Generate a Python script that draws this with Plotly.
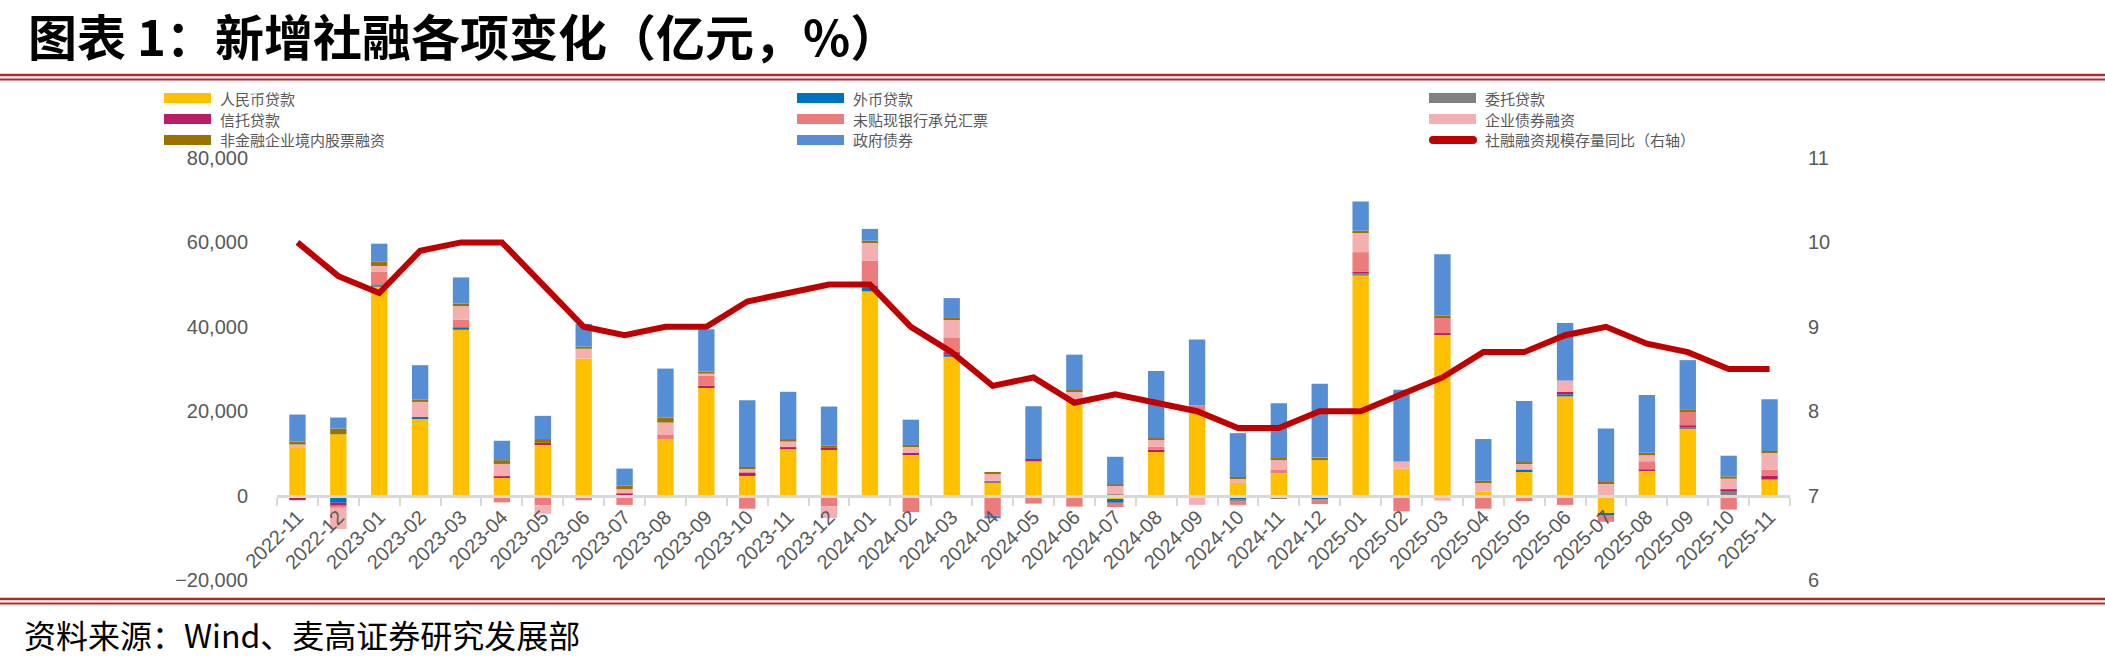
import plotly.graph_objects as go

months = ["2022-11", "2022-12",
          "2023-01", "2023-02", "2023-03", "2023-04", "2023-05", "2023-06",
          "2023-07", "2023-08", "2023-09", "2023-10", "2023-11", "2023-12",
          "2024-01", "2024-02", "2024-03", "2024-04", "2024-05", "2024-06",
          "2024-07", "2024-08", "2024-09", "2024-10", "2024-11", "2024-12",
          "2025-01", "2025-02", "2025-03", "2025-04", "2025-05", "2025-06",
          "2025-07", "2025-08", "2025-09", "2025-10", "2025-11"]

# 亿元
rmb_loans = [11500, 14500,
             49400, 18300, 39300, 4300, 12200, 32500,
             200, 13400, 25500, 4700, 11000, 11000,
             48400, 9600, 32900, 3200, 8100, 22000,
             -800, 10500, 20200, 3000, 5300, 8400,
             52100, 6400, 38100, 1000, 5800, 23500,
             -4300, 5900, 16000, 0, 3800]
fx_loans = [-800, -1700,
            0, 300, 600, -400, -400, 0,
            -400, 0, -200, 400, -300, -500,
            900, 0, 500, 0, -300, -500,
            -900, -500, -200, -900, -500, -800,
            -300, 0, 0, 0, 400, 500,
            -300, 0, 0, -300, 0]
entrusted_loans = [0, 0,
                   700, 0, 0, 0, 0, 0,
                   0, 0, 0, 0, -200, 0,
                   -200, 0, -200, 300, 0, 0,
                   300, 0, 0, -300, -200, 0,
                   500, -200, -300, 0, 0, -300,
                   0, -300, 300, 1200, -300]
trust_loans = [-300, -700,
               -200, 0, 0, 300, 300, -400,
               300, -200, 500, 400, 500, 300,
               500, 500, 600, 0, 600, 0,
               0, 400, 0, 0, 0, 0,
               500, -300, 400, 0, 0, 600,
               0, 250, 300, 300, 950]
undiscounted_bills = [0, -500,
                      2900, -300, 1800, -1200, -1900, -700,
                      -1800, 1100, 2400, -3100, 0, -2000,
                      5900, -3900, 3500, -4700, -1600, -2100,
                      -1000, 700, 1200, -1000, 900, -1200,
                      4600, -3200, 3700, -3100, -1300, -1900,
                      -1600, 2000, 3200, -3000, 1400]
corp_bonds = [600, -5000,
              1400, 3600, 3200, 2900, -2000, 2300,
              1000, 2800, 500, 900, 1300, -2800,
              4300, 1600, 4300, 1700, 0, 2600,
              2000, 1800, -2000, 1100, 2200, 0,
              4700, 1700, -900, 2200, 1400, 2700,
              2800, 1400, 0, 2500, 4000]
equity_financing = [700, 1400,
                    1100, 600, 600, 900, 900, 500,
                    900, 1200, 500, 400, 600, 600,
                    400, 300, 300, 300, 0, 400,
                    300, 200, 0, 300, 500, 600,
                    400, 0, 400, 300, 300, 0,
                    400, 600, 500, 550, 400]
gov_bonds = [6400, 2600,
             4200, 8100, 6200, 4600, 5500, 5400,
             4000, 11600, 10000, 15800, 11200, 9200,
             2800, 6000, 4700, -700, 12500, 8400,
             6600, 15900, 15600, 10400, 13000, 17500,
             6900, 17000, 14600, 9900, 14500, 13600,
             12700, 13700, 11800, 4900, 12300]
# %
tsf_stock_yoy = [10.0, 9.6,
                 9.4, 9.9, 10.0, 10.0, 9.5, 9.0,
                 8.9, 9.0, 9.0, 9.3, 9.4, 9.5,
                 9.5, 9.0, 8.7, 8.3, 8.4, 8.1,
                 8.2, 8.1, 8.0, 7.8, 7.8, 8.0,
                 8.0, 8.2, 8.4, 8.7, 8.7, 8.9,
                 9.0, 8.8, 8.7, 8.5, 8.5]

series_names = ["人民币贷款", "外币贷款", "委托贷款", "信托贷款",
                "未贴现银行承兑汇票", "企业债券融资", "非金融企业境内股票融资", "政府债券"]
series_values = [rmb_loans, fx_loans, entrusted_loans, trust_loans,
                 undiscounted_bills, corp_bonds, equity_financing, gov_bonds]
series_colors = ["#FFC000", "#0070C0", "#808080", "#BA1C67",
                 "#EC7B7B", "#F4B0B0", "#9A7200", "#558ED5"]
line_name = "社融融资规模存量同比（右轴）"
line_color = "#C00000"

W, H = 2105, 664
L, R, T, B = 277, 315, 158, 84
PW = W - L - R
PH = H - T - B


def px_x(px):
    return (px - L) / PW


def px_y(py):
    return (H - B - py) / PH


fig = go.Figure()
for name, vals, color in zip(series_names, series_values, series_colors):
    fig.add_trace(go.Bar(x=months, y=vals, name=name,
                         marker=dict(color=color, line=dict(width=0)),
                         yaxis="y"))
fig.add_trace(go.Scatter(x=months, y=tsf_stock_yoy, name=line_name, mode="lines",
                         line=dict(color=line_color, width=6), yaxis="y2"))

tick_font = dict(family="Liberation Sans, Arial, sans-serif", size=20, color="#595959")
cjk = "Noto Sans CJK SC"

shapes = []
annotations = []

# Title and source
annotations.append(dict(x=px_x(26), y=px_y(35), xref="paper", yref="paper",
                        xanchor="left", yanchor="middle", showarrow=False,
                        text="<b>图表 1：新增社融各项变化（亿元，%）</b>",
                        font=dict(family=cjk, size=49, color="#000000")))
annotations.append(dict(x=px_x(22), y=px_y(634), xref="paper", yref="paper",
                        xanchor="left", yanchor="middle", showarrow=False,
                        text="资料来源：Wind、麦高证券研究发展部",
                        font=dict(family=cjk, size=32, color="#000000")))

# Double red rules
for yy, wd in [(75, 2.5), (79.5, 2), (599, 2.5), (603.5, 2)]:
    shapes.append(dict(type="line", xref="paper", yref="paper",
                       x0=px_x(0), x1=px_x(W), y0=px_y(yy), y1=px_y(yy),
                       line=dict(color="#B02A2A", width=wd)))

# Custom legend (3 columns x 3 rows, row-major)
legend_names = series_names + [line_name]
legend_colors = series_colors + [line_color]
col_sw = [164, 797, 1429]
row_c = [98, 119, 140]
for i, (nm, colr) in enumerate(zip(legend_names, legend_colors)):
    r, c = divmod(i, 3)
    x0 = col_sw[c]
    yc = row_c[r]
    if i < 8:
        shapes.append(dict(type="rect", xref="paper", yref="paper",
                           x0=px_x(x0), x1=px_x(x0 + 47),
                           y0=px_y(yc + 5), y1=px_y(yc - 5),
                           fillcolor=colr, line=dict(width=0)))
    else:
        shapes.append(dict(type="rect", xref="paper", yref="paper",
                           x0=px_x(x0 + 4), x1=px_x(x0 + 44),
                           y0=px_y(yc + 4), y1=px_y(yc - 4),
                           fillcolor=colr, line=dict(width=0)))
        for cx in (x0 + 4, x0 + 44):
            shapes.append(dict(type="circle", xref="paper", yref="paper",
                               x0=px_x(cx - 4), x1=px_x(cx + 4),
                               y0=px_y(yc + 4), y1=px_y(yc - 4),
                               fillcolor=colr, line=dict(width=0)))
    annotations.append(dict(x=px_x(x0 + 55), y=px_y(yc), xref="paper", yref="paper",
                            xanchor="left", yanchor="middle", showarrow=False,
                            borderpad=0,
                            text=nm, font=dict(family=cjk, size=15, color="#595959")))

fig.update_layout(
    width=W, height=H, autosize=False,
    margin=dict(l=L, r=R, t=T, b=B, pad=0),
    paper_bgcolor="white", plot_bgcolor="white",
    barmode="relative", bargap=0.6,
    showlegend=False,
    xaxis=dict(type="category", range=[-0.5, len(months) - 0.5],
               anchor="free", position=0.2,
               showline=True, linecolor="#D9D9D9", linewidth=3,
               ticks="outside", tickson="boundaries", ticklen=8, tickwidth=2,
               tickcolor="#D9D9D9", tickangle=-45, tickfont=tick_font,
               showgrid=False, zeroline=False),
    yaxis=dict(range=[-20000, 80000], dtick=20000, tickformat=",",
               showgrid=False, zeroline=False, showline=False, ticks="",
               ticklabelstandoff=28, tickfont=tick_font),
    yaxis2=dict(range=[6, 11], dtick=1, overlaying="y", side="right",
                showgrid=False, zeroline=False, showline=False, ticks="",
                ticklabelstandoff=17, tickfont=tick_font),
    shapes=shapes,
    annotations=annotations,
)

fig.write_html("out.html", config={"displayModeBar": False})
